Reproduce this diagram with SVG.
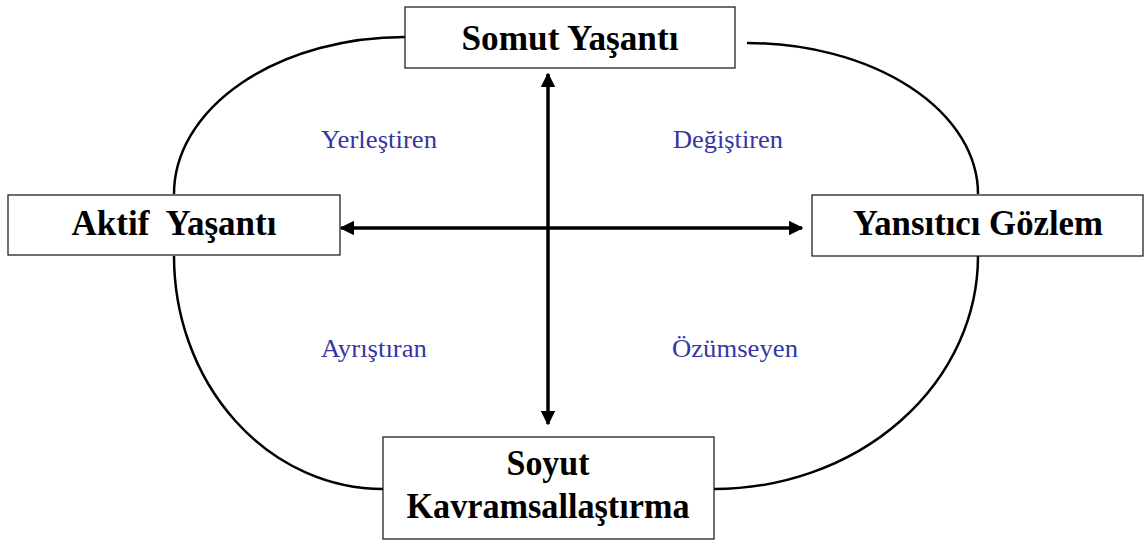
<svg xmlns="http://www.w3.org/2000/svg" width="1144" height="540" viewBox="0 0 1144 540">
<style>
.box{fill:#fff;stroke:#222;stroke-width:1.3}
.title{font-family:'Liberation Serif','Times New Roman','DejaVu Serif',serif;font-weight:bold;font-size:35px;fill:#000;text-anchor:middle}
.lbl{font-family:'Liberation Serif','Times New Roman','DejaVu Serif',serif;font-size:25px;fill:#3535a5}
.arc{fill:none;stroke:#000;stroke-width:2.5}
.axis{fill:none;stroke:#000;stroke-width:3.5}
</style>
<defs>
<marker id="ah" viewBox="0 0 10 10" refX="9" refY="5" markerWidth="4.2" markerHeight="4.2" orient="auto-start-reverse" markerUnits="strokeWidth">
<path d="M0,0 L10,5 L0,10 z" fill="#000"/>
</marker>
</defs>
<rect width="1144" height="540" fill="#fff"/>
<g id="connectors">
<path class="arc" d="M174,194 A231,157 0 0 1 405,37"/>
<path class="arc" d="M747,43 A231,151 0 0 1 978,194"/>
<path class="arc" d="M174,256 A209,233 0 0 0 383,489"/>
<path class="arc" d="M978,256 A264,233 0 0 1 714,489"/>
<line class="axis" x1="548" y1="74" x2="548" y2="424" marker-start="url(#ah)" marker-end="url(#ah)"/>
<line class="axis" x1="341" y1="228" x2="802" y2="228" marker-start="url(#ah)" marker-end="url(#ah)"/>
</g>
<g id="somut">
<rect class="box" x="405" y="7" width="330" height="61"/>
<text class="title" x="570" y="50" textLength="217" lengthAdjust="spacingAndGlyphs">Somut Yaşantı</text>
</g>
<g id="aktif">
<rect class="box" x="8" y="195" width="332" height="60"/>
<text class="title" x="174" y="235" textLength="205" lengthAdjust="spacingAndGlyphs" xml:space="preserve">Aktif  Yaşantı</text>
</g>
<g id="yansitici">
<rect class="box" x="812" y="195" width="331" height="61"/>
<text class="title" x="978" y="235" textLength="250" lengthAdjust="spacingAndGlyphs">Yansıtıcı Gözlem</text>
</g>
<g id="soyut">
<rect class="box" x="383" y="437" width="331" height="102"/>
<text class="title" x="548" y="475" textLength="83" lengthAdjust="spacingAndGlyphs">Soyut</text>
<text class="title" x="548" y="518" textLength="283" lengthAdjust="spacingAndGlyphs">Kavramsallaştırma</text>
</g>
<g id="labels">
<text class="lbl" x="321" y="148" textLength="116" lengthAdjust="spacingAndGlyphs">Yerleştiren</text>
<text class="lbl" x="673" y="148" textLength="110" lengthAdjust="spacingAndGlyphs">Değiştiren</text>
<text class="lbl" x="321" y="357" textLength="106" lengthAdjust="spacingAndGlyphs">Ayrıştıran</text>
<text class="lbl" x="672" y="357" textLength="126" lengthAdjust="spacingAndGlyphs">Özümseyen</text>
</g>
</svg>
